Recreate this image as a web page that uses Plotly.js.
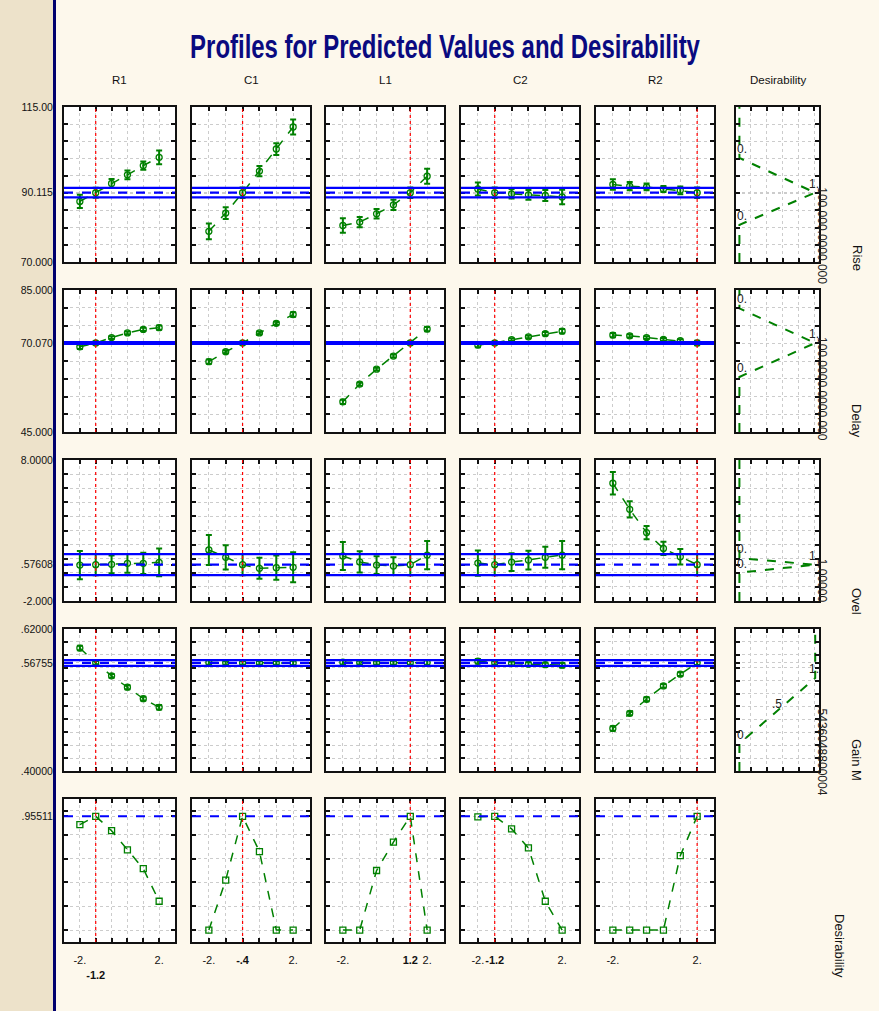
<!DOCTYPE html>
<html><head><meta charset="utf-8">
<script src="https://cdn.plot.ly/plotly-3.0.1.min.js"></script>
<style>html,body{margin:0;padding:0;background:#FDF8EC;} #chart{width:879px;height:1011px;}</style>
</head><body><div id="chart"></div>
<script>
// ---------------- DATA ----------------
const factors = ['R1','C1','L1','C2','R2'];
const levels = [-2,-1.2,-0.4,0.4,1.2,2];
const currentLevels = [-1.2,-0.4,1.2,-1.2,2];
const responses = ['Rise','Delay','Ovel','Gain M','Desirability'];
const xTickText = [
  ['-2.','<br><b>-1.2</b>','','','','2.'],
  ['-2.','','<b>-.4</b>','','','2.'],
  ['-2.','','','','<b>1.2</b>','2.'],
  ['-2.','<b>-1.2</b>','','','','2.'],
  ['-2.','','','','','2.']
];

// Rise
const riseR1 = [87.6, 90.1, 92.8, 95.3, 98.0, 100.4];
const riseC1 = [78.9, 84.2, 90.1, 96.4, 102.8, 109.2];
const riseL1 = [80.6, 81.6, 84.0, 86.6, 90.1, 94.9];
const riseC2 = [91.2, 90.1, 89.8, 89.5, 89.3, 88.9];
const riseR2 = [92.5, 92.0, 91.8, 91.2, 90.8, 90.1];
const riseErrR1 = [1.9, 1.45, 1.3, 1.3, 1.2, 2.0];
const riseErrC1 = [2.3, 1.7, 1.5, 1.5, 1.7, 2.2];
const riseErrL1 = [2.1, 1.5, 1.4, 1.5, 1.5, 2.2];
const riseErrC2 = [1.9, 1.5, 1.4, 1.4, 1.6, 2.1];
const riseErrR2 = [1.5, 1.2, 1.0, 0.9, 1.1, 1.5];
const risePred = 90.115, riseCI = [88.75, 91.5];

// Delay
const delayR1 = [69.0, 70.07, 71.6, 72.9, 73.9, 74.4];
const delayC1 = [64.8, 67.6, 70.07, 72.9, 75.6, 78.1];
const delayL1 = [53.5, 58.5, 62.7, 66.4, 70.07, 74.0];
const delayC2 = [69.5, 70.07, 71.0, 71.8, 72.7, 73.4];
const delayR2 = [72.3, 72.1, 71.6, 71.1, 70.7, 70.07];
const delayErr = [0.6, 0.45, 0.4, 0.4, 0.45, 0.6];
const delayPred = 70.07, delayCI = [69.8, 70.35];

// Overshoot
const overR1 = [0.55, 0.576, 0.6, 0.67, 0.67, 0.74];
const overC1 = [1.62, 1.1, 0.576, 0.32, 0.36, 0.39];
const overL1 = [1.19, 0.77, 0.55, 0.48, 0.576, 1.26];
const overC2 = [0.69, 0.576, 0.76, 0.9, 1.1, 1.26];
const overR2 = [6.35, 4.5, 2.85, 1.73, 1.14, 0.576];
const overErrR1 = [1.0, 0.75, 0.63, 0.66, 0.76, 0.98];
const overErrC1 = [1.06, 0.86, 0.75, 0.75, 0.86, 1.06];
const overErrL1 = [1.0, 0.75, 0.63, 0.63, 0.75, 1.0];
const overErrC2 = [0.9, 0.75, 0.63, 0.66, 0.75, 1.0];
const overErrR2 = [0.8, 0.57, 0.47, 0.47, 0.55, 0.75];
const overPred = 0.57608, overCI = [-0.16, 1.33];

// Gain margin
const gainR1 = [0.5905, 0.5676, 0.5474, 0.5298, 0.5121, 0.4986];
const gainC1 = [0.5680, 0.5676, 0.5676, 0.5675, 0.5675, 0.5674];
const gainL1 = [0.5685, 0.5680, 0.5678, 0.5677, 0.5676, 0.5680];
const gainC2 = [0.5700, 0.5676, 0.5665, 0.5655, 0.5648, 0.5640];
const gainR2 = [0.4659, 0.4893, 0.5111, 0.5318, 0.5500, 0.5676];
const gainErr = [0.0035, 0.003, 0.003, 0.003, 0.003, 0.0035];
const gainPred = 0.56755, gainCI = [0.5630, 0.5718];

// Overall desirability
const desR1 = [0.885, 0.955, 0.834, 0.673, 0.515, 0.242];
const desC1 = [0, 0.42, 0.955, 0.659, 0, 0];
const desL1 = [0, 0, 0.5, 0.738, 0.955, 0];
const desC2 = [0.95, 0.955, 0.85, 0.69, 0.242, 0];
const desR2 = [0, 0, 0, 0, 0.625, 0.955];
const desPred = 0.95511;

// Desirability functions (desirability value vs response)
const riseDesResp = [70, 80.8, 90.115, 100.2, 115];
const riseDesVal = [0, 0, 1, 0, 0];
const delayDesResp = [45, 60.5, 70.07, 79.8, 85];
const delayDesVal = [0, 0, 1, 0, 0];
const overDesResp = [-2, 0.01, 0.576, 1.03, 8];
const overDesVal = [0, 0, 1, 0, 0];
const gainDesResp = [0.40, 0.4425, 0.544, 0.62];
const gainDesVal = [0, 0, 1, 1];

// y-axis labels per row
const riseYLabelVals = [70, 90.115, 115], riseYLabels = ['70.000','90.115','115.00'];
const delayYLabelVals = [45, 70.07, 85], delayYLabels = ['45.000','70.070','85.000'];
const overYLabelVals = [-2, 0.57608, 8], overYLabels = ['-2.000','.57608','8.0000'];
const gainYLabelVals = [0.40, 0.56755, 0.62], gainYLabels = ['.40000','.56755','.62000'];
const desYLabelVals = [0.95511], desYLabels = ['.95511'];

// overlapping value labels along the right edge of the desirability-function panels
const garbledText = ['100.000.0000.000', '100.0000.0000.000', '1.00000', '.5436048800004'];
const garbledAt = [90.115, 70.07, 0.57608, 0.505];

// ---------------- LAYOUT / BUILD ----------------
const W = 879, H = 1011;
const GREEN = '#008000', BLUE = '#0000ff', RED = '#ff0000';
const FONT = '"Liberation Sans", Arial, sans-serif';
const colX = [[64,175],[192,310],[326,444],[461,579],[596,714],[736,819]];
const rowY = [[107,262],[290,432],[460,601],[629,771],[799,942]];

const rowData = [
  {vals:[riseR1,riseC1,riseL1,riseC2,riseR2], errs:[riseErrR1,riseErrC1,riseErrL1,riseErrC2,riseErrR2], pred:risePred, ci:riseCI,
   range:[70,115], step:5, lv:riseYLabelVals, lt:riseYLabels, desResp:riseDesResp, desVal:riseDesVal},
  {vals:[delayR1,delayC1,delayL1,delayC2,delayR2], errs:[delayErr,delayErr,delayErr,delayErr,delayErr], pred:delayPred, ci:delayCI,
   range:[45,85], step:5, lv:delayYLabelVals, lt:delayYLabels, desResp:delayDesResp, desVal:delayDesVal},
  {vals:[overR1,overC1,overL1,overC2,overR2], errs:[overErrR1,overErrC1,overErrL1,overErrC2,overErrR2], pred:overPred, ci:overCI,
   range:[-2,8], step:1, lv:overYLabelVals, lt:overYLabels, desResp:overDesResp, desVal:overDesVal},
  {vals:[gainR1,gainC1,gainL1,gainC2,gainR2], errs:[gainErr,gainErr,gainErr,gainErr,gainErr], pred:gainPred, ci:gainCI,
   range:[0.40,0.62], step:0.02, lv:gainYLabelVals, lt:gainYLabels, desResp:gainDesResp, desVal:gainDesVal},
  {vals:[desR1,desC1,desL1,desC2,desR2], errs:null, pred:desPred, ci:null,
   range:[-0.1,1.1], gridFrom:0, gridTo:1, step:0.2, lv:desYLabelVals, lt:desYLabels}
];

function gridVals(from, to, step){
  const out=[]; const n=Math.round((to-from)/step);
  for(let i=0;i<=n;i++) out.push(Math.round((from+i*step)*1e6)/1e6);
  return out;
}

const data = [], shapes = [], annotations = [];
const layout = {
  width: W, height: H, autosize: false,
  margin: {l:0, r:0, t:0, b:0, pad:0},
  paper_bgcolor: '#FDF8EC', plot_bgcolor: '#ffffff',
  showlegend: false,
  font: {family: FONT, size: 11, color: '#111'},
  title: {text: '<b>Profiles for Predicted Values and Desirability</b>', x: 445/W, xanchor: 'center', y: 1-46/H, yanchor: 'middle',
          font: {family: FONT, size: 34, color: '#0a0a80'}}
};

const axisCommon = {
  showline: true, mirror: 'allticks', linecolor: '#111', linewidth: 2,
  ticks: 'inside', ticklen: 4, tickwidth: 2, tickcolor: '#111',
  showgrid: true, gridcolor: '#cccccc', gridwidth: 1, griddash: 'dot',
  zeroline: false, fixedrange: true, tickangle: 0
};

let n = 0;
const firstRowRefs = [];
for (let r = 0; r < 5; r++) {
  const rd = rowData[r];
  for (let c = 0; c < 6; c++) {
    if (r === 4 && c === 5) continue;
    n++;
    const xa = n === 1 ? 'xaxis' : 'xaxis' + n;
    const ya = n === 1 ? 'yaxis' : 'yaxis' + n;
    const xr = n === 1 ? 'x' : 'x' + n;
    const yr = n === 1 ? 'y' : 'y' + n;
    if (r === 0) firstRowRefs.push(xr);

    const grid = rd.gridFrom !== undefined ? gridVals(rd.gridFrom, rd.gridTo, rd.step) : gridVals(rd.range[0], rd.range[1], rd.step);
    const yTickVals = grid.concat(rd.lv);
    const yTickText = grid.map(() => '').concat(rd.lt);
    const tv = [], tt = [];
    yTickVals.forEach((v, i) => {
      const k = tv.findIndex(u => Math.abs(u - v) < 1e-9);
      if (k >= 0) { if (yTickText[i]) tt[k] = yTickText[i]; }
      else { tv.push(v); tt.push(yTickText[i]); }
    });

    layout[ya] = Object.assign({}, axisCommon, {
      domain: [1 - rowY[r][1]/H, 1 - rowY[r][0]/H], anchor: xr,
      range: rd.range, tickmode: 'array', tickvals: tv, ticktext: tt,
      showticklabels: c === 0, ticklabelstandoff: 7,
      tickfont: {family: FONT, size: 10.5, color: '#111'}
    });

    if (c < 5) {
      layout[xa] = Object.assign({}, axisCommon, {
        domain: [colX[c][0]/W, colX[c][1]/W], anchor: yr,
        range: [-2.8, 2.8], tickmode: 'array', tickvals: levels,
        ticktext: xTickText[c], showticklabels: r === 4, ticklabelstandoff: 7,
        tickfont: {family: FONT, size: 11, color: '#111'}
      });
      const tr = {
        type: 'scatter', mode: 'lines+markers', x: levels, y: rd.vals[c], xaxis: xr, yaxis: yr,
        line: {color: GREEN, width: 1.5, dash: 'dash'},
        marker: {symbol: r === 4 ? 'square-open' : 'circle-open', size: 6, color: GREEN, line: {width: 1.3, color: GREEN}},
        hoverinfo: 'skip'
      };
      if (rd.errs) tr.error_y = {type: 'data', array: rd.errs[c], visible: true, color: GREEN, thickness: 2, width: 3};
      data.push(tr);
      shapes.push({type: 'line', xref: xr, yref: yr + ' domain', x0: currentLevels[c], x1: currentLevels[c], y0: 0, y1: 1,
                   line: {color: RED, width: 1.2, dash: 'dot'}});
      if (rd.ci) {
        rd.ci.forEach(v => shapes.push({type: 'line', xref: xr + ' domain', yref: yr, x0: 0, x1: 1, y0: v, y1: v,
                                         line: {color: BLUE, width: 2.2}}));
      }
      shapes.push({type: 'line', xref: xr + ' domain', yref: yr, x0: 0, x1: 1, y0: rd.pred, y1: rd.pred,
                   line: {color: BLUE, width: 2.2, dash: 'dash'}});
    } else {
      layout[xa] = Object.assign({}, axisCommon, {
        domain: [colX[c][0]/W, colX[c][1]/W], anchor: yr,
        range: [-0.045, 1.05], tickmode: 'array', tickvals: [0.15, 0.36, 0.57, 0.78, 0.99],
        showticklabels: false
      });
      data.push({
        type: 'scatter', mode: 'lines', x: rd.desVal, y: rd.desResp, xaxis: xr, yaxis: yr,
        line: {color: GREEN, width: 2, dash: 'dash'}, hoverinfo: 'skip'
      });
    }
  }
}

const colTitles = factors.concat(['Desirability']);
colTitles.forEach((t, c) => annotations.push({
  xref: firstRowRefs[c] + ' domain', x: 0.5, yref: 'paper', y: 1 - 80/H, text: t, showarrow: false,
  xanchor: 'center', yanchor: 'middle', font: {family: FONT, size: 11.5, color: '#111'}
}));

const rowLabelPos = [[857,258],[857,421],[857,601],[857,760],[840,946]];
responses.forEach((t, r) => annotations.push({
  xref: 'paper', yref: 'paper', x: rowLabelPos[r][0]/W, y: 1 - rowLabelPos[r][1]/H, text: t, textangle: 90,
  showarrow: false, xanchor: 'center', yanchor: 'middle', font: {family: FONT, size: 13, color: '#111'}
}));

const desAxes = ['6','12','18','24'];
const desLabelSets = [
  [[0, riseDesResp[3], '0.'], [0, riseDesResp[1], '0.'], [1, riseDesResp[2], '1.']],
  [[0, delayDesResp[3], '0.'], [0, delayDesResp[1], '0.'], [1, delayDesResp[2], '1.']],
  [[0, overDesResp[3], '0.'], [0, overDesResp[1], '0.'], [1, overDesResp[2], '1.']],
  [[0, gainDesResp[1], '0.'], [0.5, 0.4905, '.5'], [1, gainDesResp[2], '1.']]
];
desLabelSets.forEach((set, r) => {
  const a = desAxes[r];
  set.forEach(([x, y, t]) => annotations.push({
    xref: 'x' + a, yref: 'y' + a, x: x, y: y, text: t, showarrow: false,
    xanchor: x === 0 ? 'left' : 'center', yanchor: 'bottom', xshift: x === 0 ? -4 : (x === 1 ? -1 : 0),
    font: {family: FONT, size: 12, color: '#222'}
  }));
  annotations.push({
    xref: 'x' + a + ' domain', yref: 'y' + a, x: 1.0, y: garbledAt[r], text: garbledText[r], textangle: 90,
    showarrow: false, xanchor: 'center', yanchor: 'top', xshift: 3, yshift: r === 3 ? 0 : 8,
    font: {family: FONT, size: 12, color: '#222'}
  });
});

shapes.push({type: 'rect', xref: 'paper', yref: 'paper', x0: 0, x1: 53/W, y0: 0, y1: 1, fillcolor: '#EDE2CA', line: {width: 0}, layer: 'below'});
shapes.push({type: 'line', xref: 'paper', yref: 'paper', x0: 54.5/W, x1: 54.5/W, y0: 0, y1: 1, line: {color: '#00006e', width: 3}, layer: 'below'});

layout.shapes = shapes;
layout.annotations = annotations;

Plotly.newPlot('chart', data, layout, {staticPlot: true, displayModeBar: false}).then(gd => {
  // condense the title horizontally to mimic the narrow typeface of the original
  const t = gd.querySelector('.gtitle');
  if (t && t.getBBox) {
    const bb = t.getBBox();
    const target = 510;
    if (bb.width > target) {
      const s = target / bb.width, cx = bb.x + bb.width / 2;
      const prev = t.getAttribute('transform') || '';
      t.setAttribute('transform', `translate(${cx},0) scale(${s},1) translate(${-cx},0) ${prev}`);
    }
  }
});
</script></body></html>
